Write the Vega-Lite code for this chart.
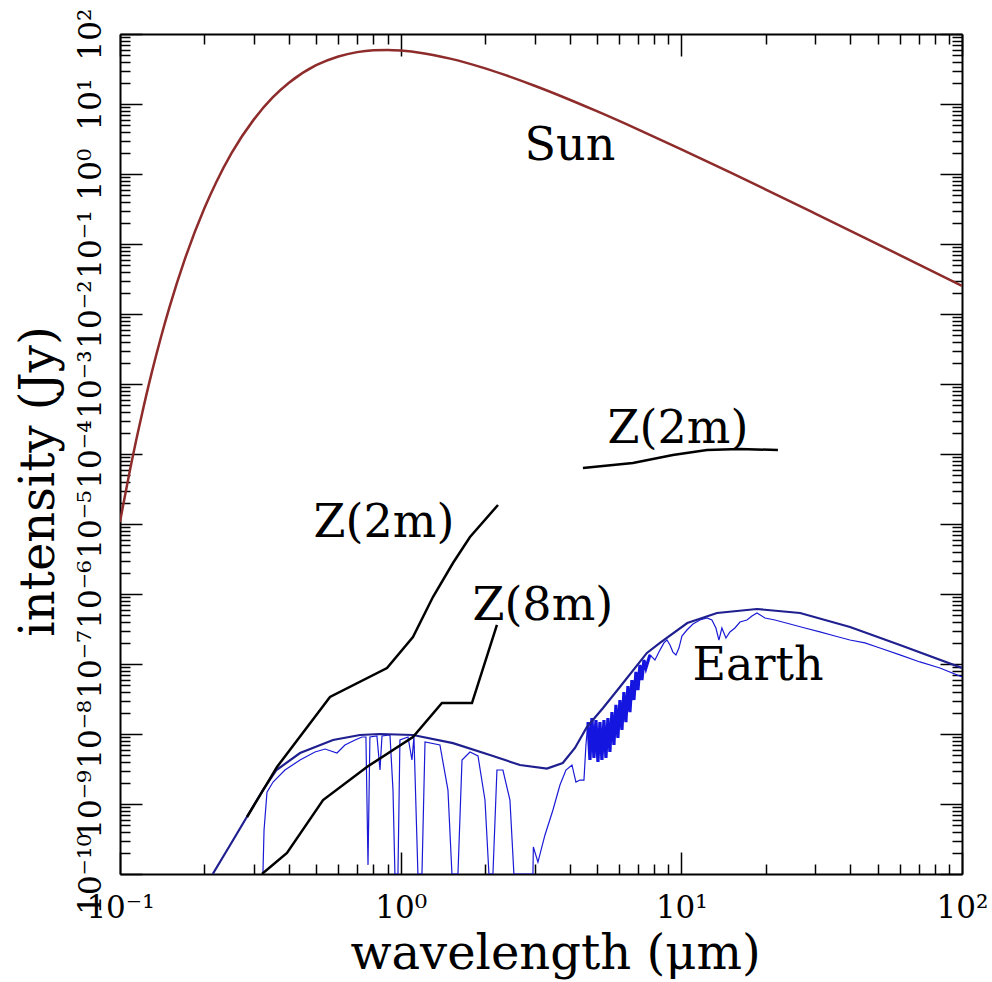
{
  "$schema": "https://vega.github.io/schema/vega-lite/v6.json",
  "width": 842,
  "height": 840,
  "autosize": {"type": "none"},
  "padding": {"left": 120, "top": 34, "right": 30, "bottom": 108},
  "background": "white",
  "config": {"view": {"stroke": null}, "axis": {"grid": false}},
  "datasets": {
    "sun": [
      {"wavelength": 0.1, "intensity": 1.07e-5},
      {"wavelength": 0.11, "intensity": 7.7e-5},
      {"wavelength": 0.12, "intensity": 3.86e-4},
      {"wavelength": 0.13, "intensity": 1.5e-3},
      {"wavelength": 0.14, "intensity": 4.69e-3},
      {"wavelength": 0.15, "intensity": 0.0124},
      {"wavelength": 0.17, "intensity": 0.0597},
      {"wavelength": 0.2, "intensity": 0.326},
      {"wavelength": 0.22, "intensity": 0.756},
      {"wavelength": 0.25, "intensity": 2.0},
      {"wavelength": 0.3, "intensity": 6.03},
      {"wavelength": 0.35, "intensity": 12.4},
      {"wavelength": 0.4, "intensity": 20.1},
      {"wavelength": 0.5, "intensity": 35.8},
      {"wavelength": 0.6, "intensity": 47.8},
      {"wavelength": 0.7, "intensity": 55.1},
      {"wavelength": 0.8, "intensity": 58.4},
      {"wavelength": 0.9, "intensity": 59.1},
      {"wavelength": 1.0, "intensity": 57.9},
      {"wavelength": 1.2, "intensity": 53.2},
      {"wavelength": 1.5, "intensity": 44.5},
      {"wavelength": 2, "intensity": 32.3},
      {"wavelength": 3, "intensity": 18.25},
      {"wavelength": 5, "intensity": 7.9},
      {"wavelength": 7, "intensity": 4.35},
      {"wavelength": 10, "intensity": 2.25},
      {"wavelength": 15, "intensity": 1.045},
      {"wavelength": 20, "intensity": 0.6},
      {"wavelength": 30, "intensity": 0.272},
      {"wavelength": 50, "intensity": 0.0997},
      {"wavelength": 70, "intensity": 0.0512},
      {"wavelength": 100, "intensity": 0.0253}
    ],
    "envelope": [
      {"wavelength": 0.214, "intensity": 1e-10},
      {"wavelength": 0.253, "intensity": 3.06e-10},
      {"wavelength": 0.29, "intensity": 7.69e-10},
      {"wavelength": 0.323, "intensity": 1.58e-9},
      {"wavelength": 0.361, "intensity": 3.06e-9},
      {"wavelength": 0.438, "intensity": 5.35e-9},
      {"wavelength": 0.574, "intensity": 8.21e-9},
      {"wavelength": 0.716, "intensity": 9.68e-9},
      {"wavelength": 0.844, "intensity": 1.0e-8},
      {"wavelength": 1.107, "intensity": 9.68e-9},
      {"wavelength": 1.536, "intensity": 7.4e-9},
      {"wavelength": 2.08, "intensity": 5.0e-9},
      {"wavelength": 2.66, "intensity": 3.61e-9},
      {"wavelength": 3.32, "intensity": 3.2e-9},
      {"wavelength": 3.78, "intensity": 3.85e-9},
      {"wavelength": 4.178, "intensity": 6.31e-9},
      {"wavelength": 4.61, "intensity": 1.26e-8},
      {"wavelength": 5.26, "intensity": 2.35e-8},
      {"wavelength": 6.04, "intensity": 4.69e-8},
      {"wavelength": 7.54, "intensity": 1.44e-7},
      {"wavelength": 8.39, "intensity": 2.0e-7},
      {"wavelength": 10.5, "intensity": 3.85e-7},
      {"wavelength": 13.4, "intensity": 5.35e-7},
      {"wavelength": 18.6, "intensity": 6.1e-7},
      {"wavelength": 26.5, "intensity": 5.35e-7},
      {"wavelength": 39.9, "intensity": 3.38e-7},
      {"wavelength": 60.1, "intensity": 1.87e-7},
      {"wavelength": 100, "intensity": 8.77e-8}
    ],
    "spectrum": [
      {"i": 1, "wavelength": 0.323, "intensity": 1e-10},
      {"i": 2, "wavelength": 0.326, "intensity": 4.25e-10},
      {"i": 3, "wavelength": 0.334, "intensity": 1.48e-9},
      {"i": 4, "wavelength": 0.351, "intensity": 2.06e-9},
      {"i": 5, "wavelength": 0.387, "intensity": 3.06e-9},
      {"i": 6, "wavelength": 0.438, "intensity": 4.25e-9},
      {"i": 7, "wavelength": 0.495, "intensity": 5.53e-9},
      {"i": 8, "wavelength": 0.538, "intensity": 6.1e-9},
      {"i": 9, "wavelength": 0.593, "intensity": 5.35e-9},
      {"i": 10, "wavelength": 0.633, "intensity": 6.97e-9},
      {"i": 11, "wavelength": 0.688, "intensity": 8.21e-9},
      {"i": 12, "wavelength": 0.728, "intensity": 9.06e-9},
      {"i": 13, "wavelength": 0.752, "intensity": 9.06e-9},
      {"i": 14, "wavelength": 0.765, "intensity": 1.35e-10},
      {"i": 15, "wavelength": 0.777, "intensity": 9.06e-9},
      {"i": 16, "wavelength": 0.823, "intensity": 9.36e-9},
      {"i": 17, "wavelength": 0.844, "intensity": 3.06e-9},
      {"i": 18, "wavelength": 0.858, "intensity": 9.36e-9},
      {"i": 19, "wavelength": 0.916, "intensity": 9.68e-9},
      {"i": 20, "wavelength": 0.939, "intensity": 1.58e-9},
      {"i": 21, "wavelength": 0.954, "intensity": 1e-10},
      {"i": 22, "wavelength": 0.978, "intensity": 1e-10},
      {"i": 23, "wavelength": 0.994, "intensity": 8.21e-9},
      {"i": 24, "wavelength": 1.062, "intensity": 9.06e-9},
      {"i": 25, "wavelength": 1.097, "intensity": 4.25e-9},
      {"i": 26, "wavelength": 1.115, "intensity": 9.06e-9},
      {"i": 27, "wavelength": 1.152, "intensity": 1e-10},
      {"i": 28, "wavelength": 1.191, "intensity": 1e-10},
      {"i": 29, "wavelength": 1.221, "intensity": 7.69e-9},
      {"i": 30, "wavelength": 1.38, "intensity": 6.97e-9},
      {"i": 31, "wavelength": 1.474, "intensity": 1.58e-9},
      {"i": 32, "wavelength": 1.523, "intensity": 1e-10},
      {"i": 33, "wavelength": 1.6, "intensity": 1e-10},
      {"i": 34, "wavelength": 1.654, "intensity": 4.25e-9},
      {"i": 35, "wavelength": 1.766, "intensity": 5.53e-9},
      {"i": 36, "wavelength": 1.886, "intensity": 4.85e-9},
      {"i": 37, "wavelength": 1.997, "intensity": 1.14e-9},
      {"i": 38, "wavelength": 2.063, "intensity": 1e-10},
      {"i": 39, "wavelength": 2.132, "intensity": 1e-10},
      {"i": 40, "wavelength": 2.203, "intensity": 3.06e-9},
      {"i": 41, "wavelength": 2.314, "intensity": 3.06e-9},
      {"i": 42, "wavelength": 2.451, "intensity": 1.14e-9},
      {"i": 43, "wavelength": 2.532, "intensity": 1e-10},
      {"i": 44, "wavelength": 2.96, "intensity": 1e-10},
      {"i": 45, "wavelength": 2.97, "intensity": 2.43e-10},
      {"i": 46, "wavelength": 3.084, "intensity": 1.48e-10},
      {"i": 47, "wavelength": 3.267, "intensity": 3.61e-10},
      {"i": 48, "wavelength": 3.488, "intensity": 8.21e-10},
      {"i": 49, "wavelength": 3.694, "intensity": 1.87e-9},
      {"i": 50, "wavelength": 3.881, "intensity": 3.06e-9},
      {"i": 51, "wavelength": 4.077, "intensity": 3.61e-9},
      {"i": 52, "wavelength": 4.212, "intensity": 2.06e-9},
      {"i": 53, "wavelength": 4.352, "intensity": 2.2e-9},
      {"i": 54, "wavelength": 4.498, "intensity": 2.2e-9},
      {"i": 55, "wavelength": 4.572, "intensity": 6.97e-9},
      {"i": 56, "wavelength": 4.648, "intensity": 1.48e-8},
      {"i": 57, "wavelength": 4.725, "intensity": 4.25e-9},
      {"i": 58, "wavelength": 4.803, "intensity": 1.69e-8},
      {"i": 59, "wavelength": 4.882, "intensity": 4.54e-9},
      {"i": 60, "wavelength": 4.963, "intensity": 1.58e-8},
      {"i": 61, "wavelength": 5.045, "intensity": 3.98e-9},
      {"i": 62, "wavelength": 5.129, "intensity": 1.48e-8},
      {"i": 63, "wavelength": 5.213, "intensity": 4.25e-9},
      {"i": 64, "wavelength": 5.3, "intensity": 1.58e-8},
      {"i": 65, "wavelength": 5.387, "intensity": 4.54e-9},
      {"i": 66, "wavelength": 5.476, "intensity": 1.69e-8},
      {"i": 67, "wavelength": 5.566, "intensity": 5.53e-9},
      {"i": 68, "wavelength": 5.659, "intensity": 2.06e-8},
      {"i": 69, "wavelength": 5.752, "intensity": 6.97e-9},
      {"i": 70, "wavelength": 5.848, "intensity": 2.6e-8},
      {"i": 71, "wavelength": 5.943, "intensity": 8.77e-9},
      {"i": 72, "wavelength": 6.043, "intensity": 3.06e-8},
      {"i": 73, "wavelength": 6.143, "intensity": 1.14e-8},
      {"i": 74, "wavelength": 6.243, "intensity": 3.98e-8},
      {"i": 75, "wavelength": 6.346, "intensity": 1.48e-8},
      {"i": 76, "wavelength": 6.453, "intensity": 4.85e-8},
      {"i": 77, "wavelength": 6.56, "intensity": 2.06e-8},
      {"i": 78, "wavelength": 6.668, "intensity": 5.9e-8},
      {"i": 79, "wavelength": 6.778, "intensity": 3.06e-8},
      {"i": 80, "wavelength": 6.891, "intensity": 7.69e-8},
      {"i": 81, "wavelength": 7.005, "intensity": 4.25e-8},
      {"i": 82, "wavelength": 7.12, "intensity": 9.68e-8},
      {"i": 83, "wavelength": 7.238, "intensity": 5.9e-8},
      {"i": 84, "wavelength": 7.359, "intensity": 1.14e-7},
      {"i": 85, "wavelength": 7.479, "intensity": 8.77e-8},
      {"i": 86, "wavelength": 7.728, "intensity": 1.35e-7},
      {"i": 87, "wavelength": 8.052, "intensity": 1.14e-7},
      {"i": 88, "wavelength": 8.391, "intensity": 1.58e-7},
      {"i": 89, "wavelength": 8.67, "intensity": 2.0e-7},
      {"i": 90, "wavelength": 8.887, "intensity": 2.2e-7},
      {"i": 91, "wavelength": 9.109, "intensity": 1.87e-7},
      {"i": 92, "wavelength": 9.335, "intensity": 1.48e-7},
      {"i": 93, "wavelength": 9.568, "intensity": 1.35e-7},
      {"i": 94, "wavelength": 9.804, "intensity": 1.69e-7},
      {"i": 95, "wavelength": 10.05, "intensity": 2.51e-7},
      {"i": 96, "wavelength": 10.47, "intensity": 3.06e-7},
      {"i": 97, "wavelength": 11.0, "intensity": 3.73e-7},
      {"i": 98, "wavelength": 11.65, "intensity": 4.25e-7},
      {"i": 99, "wavelength": 12.34, "intensity": 4.54e-7},
      {"i": 100, "wavelength": 12.85, "intensity": 4.25e-7},
      {"i": 101, "wavelength": 13.28, "intensity": 3.27e-7},
      {"i": 102, "wavelength": 13.61, "intensity": 2.2e-7},
      {"i": 103, "wavelength": 13.95, "intensity": 3.27e-7},
      {"i": 104, "wavelength": 14.42, "intensity": 2.35e-7},
      {"i": 105, "wavelength": 14.9, "intensity": 2.87e-7},
      {"i": 106, "wavelength": 15.52, "intensity": 3.27e-7},
      {"i": 107, "wavelength": 16.18, "intensity": 3.98e-7},
      {"i": 108, "wavelength": 17.13, "intensity": 4.25e-7},
      {"i": 109, "wavelength": 17.85, "intensity": 4.85e-7},
      {"i": 110, "wavelength": 18.6, "intensity": 5.35e-7},
      {"i": 111, "wavelength": 19.86, "intensity": 4.54e-7},
      {"i": 112, "wavelength": 21.55, "intensity": 4.25e-7},
      {"i": 113, "wavelength": 24.38, "intensity": 3.73e-7},
      {"i": 114, "wavelength": 27.56, "intensity": 3.27e-7},
      {"i": 115, "wavelength": 31.17, "intensity": 2.87e-7},
      {"i": 116, "wavelength": 35.26, "intensity": 2.51e-7},
      {"i": 117, "wavelength": 39.87, "intensity": 2.2e-7},
      {"i": 118, "wavelength": 45.09, "intensity": 2.0e-7},
      {"i": 119, "wavelength": 50.99, "intensity": 1.69e-7},
      {"i": 120, "wavelength": 60.09, "intensity": 1.35e-7},
      {"i": 121, "wavelength": 70.79, "intensity": 1.07e-7},
      {"i": 122, "wavelength": 83.42, "intensity": 8.77e-8},
      {"i": 123, "wavelength": 100, "intensity": 6.52e-8}
    ],
    "band": [
      {"i": 1, "wavelength": 4.648, "intensity": 1.48e-8},
      {"i": 2, "wavelength": 4.725, "intensity": 4.25e-9},
      {"i": 3, "wavelength": 4.803, "intensity": 1.69e-8},
      {"i": 4, "wavelength": 4.882, "intensity": 4.54e-9},
      {"i": 5, "wavelength": 4.963, "intensity": 1.58e-8},
      {"i": 6, "wavelength": 5.045, "intensity": 3.98e-9},
      {"i": 7, "wavelength": 5.129, "intensity": 1.48e-8},
      {"i": 8, "wavelength": 5.213, "intensity": 4.25e-9},
      {"i": 9, "wavelength": 5.3, "intensity": 1.58e-8},
      {"i": 10, "wavelength": 5.387, "intensity": 4.54e-9},
      {"i": 11, "wavelength": 5.476, "intensity": 1.69e-8},
      {"i": 12, "wavelength": 5.566, "intensity": 5.53e-9},
      {"i": 13, "wavelength": 5.659, "intensity": 2.06e-8},
      {"i": 14, "wavelength": 5.752, "intensity": 6.97e-9},
      {"i": 15, "wavelength": 5.848, "intensity": 2.6e-8},
      {"i": 16, "wavelength": 5.943, "intensity": 8.77e-9},
      {"i": 17, "wavelength": 6.043, "intensity": 3.06e-8},
      {"i": 18, "wavelength": 6.143, "intensity": 1.14e-8},
      {"i": 19, "wavelength": 6.243, "intensity": 3.98e-8},
      {"i": 20, "wavelength": 6.346, "intensity": 1.48e-8},
      {"i": 21, "wavelength": 6.453, "intensity": 4.85e-8},
      {"i": 22, "wavelength": 6.56, "intensity": 2.06e-8},
      {"i": 23, "wavelength": 6.668, "intensity": 5.9e-8},
      {"i": 24, "wavelength": 6.778, "intensity": 3.06e-8},
      {"i": 25, "wavelength": 6.891, "intensity": 7.69e-8},
      {"i": 26, "wavelength": 7.005, "intensity": 4.25e-8},
      {"i": 27, "wavelength": 7.12, "intensity": 9.68e-8},
      {"i": 28, "wavelength": 7.238, "intensity": 5.9e-8},
      {"i": 29, "wavelength": 7.359, "intensity": 1.14e-7},
      {"i": 30, "wavelength": 7.479, "intensity": 8.77e-8},
      {"i": 31, "wavelength": 7.728, "intensity": 1.35e-7}
    ],
    "z2left": [
      {"wavelength": 0.2835, "intensity": 6.52e-10},
      {"wavelength": 0.3625, "intensity": 3.38e-9},
      {"wavelength": 0.56, "intensity": 3.38e-8},
      {"wavelength": 0.894, "intensity": 8.77e-8},
      {"wavelength": 1.106, "intensity": 2.43e-7},
      {"wavelength": 1.303, "intensity": 9.06e-7},
      {"wavelength": 1.536, "intensity": 2.77e-6},
      {"wavelength": 1.766, "intensity": 6.52e-6},
      {"wavelength": 2.222, "intensity": 1.87e-5}
    ],
    "z8": [
      {"wavelength": 0.3205, "intensity": 1e-10},
      {"wavelength": 0.3935, "intensity": 2.0e-10},
      {"wavelength": 0.529, "intensity": 1.14e-9},
      {"wavelength": 0.758, "intensity": 3.38e-9},
      {"wavelength": 1.106, "intensity": 9.06e-9},
      {"wavelength": 1.403, "intensity": 2.77e-8},
      {"wavelength": 1.795, "intensity": 2.77e-8},
      {"wavelength": 2.203, "intensity": 3.61e-7}
    ],
    "z2right": [
      {"wavelength": 4.46, "intensity": 6.31e-5},
      {"wavelength": 6.72, "intensity": 7.43e-5},
      {"wavelength": 9.33, "intensity": 9.68e-5},
      {"wavelength": 12.34, "intensity": 1.14e-4},
      {"wavelength": 16.18, "intensity": 1.18e-4},
      {"wavelength": 22.09, "intensity": 1.14e-4}
    ],
    "labels": [
      {"label": "Sun", "wavelength": 4.01, "intensity": 1.585},
      {"label": "Z(2m)", "wavelength": 9.73, "intensity": 1.44e-4},
      {"label": "Z(2m)", "wavelength": 0.872, "intensity": 6.52e-6},
      {"label": "Z(8m)", "wavelength": 3.21, "intensity": 4.25e-7},
      {"label": "Earth", "wavelength": 18.75, "intensity": 5.9e-8}
    ]
  },
  "resolve": {"axis": {"x": "independent", "y": "independent"}},
  "layer": [
    {
      "data": {"name": "spectrum"},
      "mark": {"type": "line", "stroke": "#1a1ad6", "strokeWidth": 1.2, "clip": true},
      "encoding": {
        "x": {"field": "wavelength", "type": "quantitative", "scale": {"type": "log", "domain": [0.1, 100], "nice": false},
          "axis": {"orient": "bottom", "values": [0.1, 1, 10, 100], "ticks": false, "domain": true, "domainColor": "black", "domainWidth": 2,
            "labelFont": "DejaVu Serif", "labelFontSize": 31, "labelColor": "black", "labelBaseline": "alphabetic", "labelAlign": "center",
            "labelPadding": 43, "labelOverlap": false, "labelFlush": false, "labelBound": false,
            "labelExpr": "'10' + ['⁻¹⁰','⁻⁹','⁻⁸','⁻⁷','⁻⁶','⁻⁵','⁻⁴','⁻³','⁻²','⁻¹','⁰','¹','²'][round(log(datum.value)/LN10)+10]",
            "title": "wavelength (μm)", "titleFont": "DejaVu Serif", "titleFontSize": 48, "titleFontWeight": "normal", "titleColor": "black",
            "titleX": 435, "titleY": 94, "titleAlign": "center", "titleBaseline": "alphabetic", "titleAngle": 0}},
        "y": {"field": "intensity", "type": "quantitative", "scale": {"type": "log", "domain": [1e-10, 100], "nice": false},
          "axis": {"orient": "left", "values": [1e-10, 1e-9, 1e-8, 1e-7, 1e-6, 1e-5, 1e-4, 1e-3, 0.01, 0.1, 1, 10, 100], "ticks": false, "domain": true, "domainColor": "black", "domainWidth": 2,
            "labelFont": "DejaVu Serif", "labelFontSize": 31, "labelColor": "black", "labelAngle": 270, "labelAlign": "center", "labelBaseline": "alphabetic",
            "labelPadding": 20, "labelOverlap": false, "labelFlush": false, "labelBound": false,
            "labelExpr": "'10' + ['⁻¹⁰','⁻⁹','⁻⁸','⁻⁷','⁻⁶','⁻⁵','⁻⁴','⁻³','⁻²','⁻¹','⁰','¹','²'][round(log(datum.value)/LN10)+10]",
            "title": "intensity (Jy)", "titleFont": "DejaVu Serif", "titleFontSize": 48, "titleFontWeight": "normal", "titleColor": "black",
            "titleX": -67, "titleY": 447, "titleAlign": "center", "titleBaseline": "alphabetic", "titleAngle": 270}},
        "order": {"field": "i", "type": "quantitative"}
      }
    },
    {
      "data": {"name": "band"},
      "mark": {"type": "line", "stroke": "#1515e0", "strokeWidth": 3.2, "clip": true},
      "encoding": {
        "x": {"field": "wavelength", "type": "quantitative", "scale": {"type": "log", "domain": [0.1, 100], "nice": false}, "axis": null},
        "y": {"field": "intensity", "type": "quantitative", "scale": {"type": "log", "domain": [1e-10, 100], "nice": false}, "axis": null},
        "order": {"field": "i", "type": "quantitative"}
      }
    },
    {
      "data": {"name": "envelope"},
      "mark": {"type": "line", "stroke": "#1f1f8f", "strokeWidth": 2.2, "clip": true},
      "encoding": {
        "x": {"field": "wavelength", "type": "quantitative", "scale": {"type": "log", "domain": [0.1, 100], "nice": false},
          "axis": {"orient": "bottom", "values": [0.1, 1, 10, 100], "labels": false, "domain": false, "ticks": true, "tickSize": -22, "tickWidth": 1.5, "tickColor": "black", "title": null}},
        "y": {"field": "intensity", "type": "quantitative", "scale": {"type": "log", "domain": [1e-10, 100], "nice": false},
          "axis": {"orient": "left", "values": [1e-10, 1e-9, 1e-8, 1e-7, 1e-6, 1e-5, 1e-4, 1e-3, 0.01, 0.1, 1, 10, 100], "labels": false, "domain": false, "ticks": true, "tickSize": -22, "tickWidth": 1.5, "tickColor": "black", "title": null}}
      }
    },
    {
      "data": {"name": "z2left"},
      "mark": {"type": "line", "stroke": "black", "strokeWidth": 2.5, "clip": true},
      "encoding": {
        "x": {"field": "wavelength", "type": "quantitative", "scale": {"type": "log", "domain": [0.1, 100], "nice": false},
          "axis": {"orient": "bottom", "values": [0.2, 0.3, 0.4, 0.5, 0.6, 0.7, 0.8, 0.9, 2, 3, 4, 5, 6, 7, 8, 9, 20, 30, 40, 50, 60, 70, 80, 90], "labels": false, "domain": false, "ticks": true, "tickSize": -10, "tickWidth": 1.5, "tickColor": "black", "title": null}},
        "y": {"field": "intensity", "type": "quantitative", "scale": {"type": "log", "domain": [1e-10, 100], "nice": false},
          "axis": {"orient": "left", "values": [2e-10, 3e-10, 4e-10, 5e-10, 6e-10, 7e-10, 8e-10, 9e-10, 2e-9, 3e-9, 4e-9, 5e-9, 6e-9, 7e-9, 8e-9, 9e-9, 2e-8, 3e-8, 4e-8, 5e-8, 6e-8, 7e-8, 8e-8, 9e-8, 2e-7, 3e-7, 4e-7, 5e-7, 6e-7, 7e-7, 8e-7, 9e-7, 2e-6, 3e-6, 4e-6, 5e-6, 6e-6, 7e-6, 8e-6, 9e-6, 2e-5, 3e-5, 4e-5, 5e-5, 6e-5, 7e-5, 8e-5, 9e-5, 2e-4, 3e-4, 4e-4, 5e-4, 6e-4, 7e-4, 8e-4, 9e-4, 0.002, 0.003, 0.004, 0.005, 0.006, 0.007, 0.008, 0.009, 0.02, 0.03, 0.04, 0.05, 0.06, 0.07, 0.08, 0.09, 0.2, 0.3, 0.4, 0.5, 0.6, 0.7, 0.8, 0.9, 2, 3, 4, 5, 6, 7, 8, 9, 20, 30, 40, 50, 60, 70, 80, 90], "labels": false, "domain": false, "ticks": true, "tickSize": -10, "tickWidth": 1.5, "tickColor": "black", "title": null}}
      }
    },
    {
      "data": {"name": "z8"},
      "mark": {"type": "line", "stroke": "black", "strokeWidth": 2.5, "clip": true},
      "encoding": {
        "x": {"field": "wavelength", "type": "quantitative", "scale": {"type": "log", "domain": [0.1, 100], "nice": false},
          "axis": {"orient": "top", "values": [0.1, 1, 10, 100], "labels": false, "domain": true, "domainColor": "black", "domainWidth": 2, "ticks": true, "tickSize": -22, "tickWidth": 1.5, "tickColor": "black", "title": null}},
        "y": {"field": "intensity", "type": "quantitative", "scale": {"type": "log", "domain": [1e-10, 100], "nice": false},
          "axis": {"orient": "right", "values": [1e-10, 1e-9, 1e-8, 1e-7, 1e-6, 1e-5, 1e-4, 1e-3, 0.01, 0.1, 1, 10, 100], "labels": false, "domain": true, "domainColor": "black", "domainWidth": 2, "ticks": true, "tickSize": -22, "tickWidth": 1.5, "tickColor": "black", "title": null}}
      }
    },
    {
      "data": {"name": "z2right"},
      "mark": {"type": "line", "stroke": "black", "strokeWidth": 2.5, "clip": true},
      "encoding": {
        "x": {"field": "wavelength", "type": "quantitative", "scale": {"type": "log", "domain": [0.1, 100], "nice": false},
          "axis": {"orient": "top", "values": [0.2, 0.3, 0.4, 0.5, 0.6, 0.7, 0.8, 0.9, 2, 3, 4, 5, 6, 7, 8, 9, 20, 30, 40, 50, 60, 70, 80, 90], "labels": false, "domain": false, "ticks": true, "tickSize": -10, "tickWidth": 1.5, "tickColor": "black", "title": null}},
        "y": {"field": "intensity", "type": "quantitative", "scale": {"type": "log", "domain": [1e-10, 100], "nice": false},
          "axis": {"orient": "right", "values": [2e-10, 3e-10, 4e-10, 5e-10, 6e-10, 7e-10, 8e-10, 9e-10, 2e-9, 3e-9, 4e-9, 5e-9, 6e-9, 7e-9, 8e-9, 9e-9, 2e-8, 3e-8, 4e-8, 5e-8, 6e-8, 7e-8, 8e-8, 9e-8, 2e-7, 3e-7, 4e-7, 5e-7, 6e-7, 7e-7, 8e-7, 9e-7, 2e-6, 3e-6, 4e-6, 5e-6, 6e-6, 7e-6, 8e-6, 9e-6, 2e-5, 3e-5, 4e-5, 5e-5, 6e-5, 7e-5, 8e-5, 9e-5, 2e-4, 3e-4, 4e-4, 5e-4, 6e-4, 7e-4, 8e-4, 9e-4, 0.002, 0.003, 0.004, 0.005, 0.006, 0.007, 0.008, 0.009, 0.02, 0.03, 0.04, 0.05, 0.06, 0.07, 0.08, 0.09, 0.2, 0.3, 0.4, 0.5, 0.6, 0.7, 0.8, 0.9, 2, 3, 4, 5, 6, 7, 8, 9, 20, 30, 40, 50, 60, 70, 80, 90], "labels": false, "domain": false, "ticks": true, "tickSize": -10, "tickWidth": 1.5, "tickColor": "black", "title": null}}
      }
    },
    {
      "data": {"name": "sun"},
      "mark": {"type": "line", "stroke": "#8e2b2b", "strokeWidth": 2.5, "clip": true, "interpolate": "monotone"},
      "encoding": {
        "x": {"field": "wavelength", "type": "quantitative", "scale": {"type": "log", "domain": [0.1, 100], "nice": false}, "axis": null},
        "y": {"field": "intensity", "type": "quantitative", "scale": {"type": "log", "domain": [1e-10, 100], "nice": false}, "axis": null}
      }
    },
    {
      "data": {"name": "labels"},
      "mark": {"type": "text", "font": "DejaVu Serif", "fontSize": 46, "fontWeight": "normal", "color": "black", "align": "center", "baseline": "alphabetic"},
      "encoding": {
        "x": {"field": "wavelength", "type": "quantitative", "scale": {"type": "log", "domain": [0.1, 100], "nice": false}, "axis": null},
        "y": {"field": "intensity", "type": "quantitative", "scale": {"type": "log", "domain": [1e-10, 100], "nice": false}, "axis": null},
        "text": {"field": "label", "type": "nominal"}
      }
    }
  ]
}
